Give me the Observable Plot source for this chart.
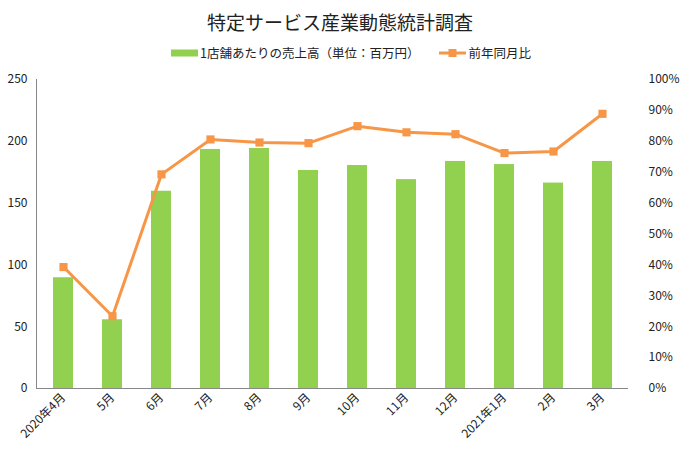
<!DOCTYPE html>
<html>
<head>
<meta charset="utf-8">
<script src="https://cdn.jsdelivr.net/npm/d3@7"></script>
<script src="https://cdn.jsdelivr.net/npm/@observablehq/plot@0.6"></script>
<style>
  html, body { margin: 0; padding: 0; background: #fff; }
  body { font-family: "Liberation Sans Narrow", "Noto Sans CJK JP", sans-serif; color: #333; }
  #wrap { position: relative; width: 680px; height: 454px; }
  #title { position: absolute; left: 0; top: 8px; width: 680px; text-align: center;
           font-family: "Noto Sans CJK JP", sans-serif; font-size: 19px; line-height: 28px; color: #222; }
  #legend { position: absolute; left: 0; top: 43px; width: 680px; display: flex; justify-content: center;
            align-items: center; font-size: 12.5px; line-height: 20px; color: #222; margin-left: 11px; }
  .item { display: flex; align-items: center; }
  .item + .item { margin-left: 20px; }
  .sw { width: 27px; height: 16px; margin-right: 2px; }
  #chart { position: absolute; left: 0; top: 68px; }
</style>
</head>
<body>
<div id="wrap">
  <div id="title">特定サービス産業動態統計調査</div>
  <div id="legend"></div>
  <div id="chart"></div>
</div>
<script>
const months = ["2020年4月","5月","6月","7月","8月","9月","10月","11月","12月","2021年1月","2月","3月"];
const sales = [89.6, 55.6, 159.6, 193.4, 194.2, 176.4, 180.4, 169.0, 183.7, 181.2, 166.2, 183.7];
const yoy = [39.3, 23.4, 69.3, 80.6, 79.6, 79.4, 84.9, 82.9, 82.3, 76.2, 76.7, 88.9];
const leftTicks = [0, 50, 100, 150, 200, 250];
const rightTicks = [0, 10, 20, 30, 40, 50, 60, 70, 80, 90, 100];
const seriesNames = ["1店舗あたりの売上高（単位：百万円）", "前年同月比"];

const GREEN = "#92D050";
const ORANGE = "#F79646";
const scaleRatio = 250 / 100; // right axis 100% maps to 250 on left

const data = months.map((m, i) => ({month: m, sales: sales[i], yoy: yoy[i]}));

// legend
const legend = document.getElementById("legend");
legend.innerHTML = `
  <div class="item"><svg class="sw" viewBox="0 0 27 16"><rect x="0" y="4.5" width="27" height="7" fill="${GREEN}"/></svg><span>${seriesNames[0]}</span></div>
  <div class="item"><svg class="sw" viewBox="0 0 27 16"><line x1="0" x2="27" y1="8" y2="8" stroke="${ORANGE}" stroke-width="3"/><rect x="9.5" y="4" width="8" height="8" fill="${ORANGE}"/></svg><span>${seriesNames[1]}</span></div>`;

const chart = Plot.plot({
  width: 680,
  height: 386,
  marginTop: 11,
  marginBottom: 66,
  marginLeft: 36,
  marginRight: 52,
  style: {fontFamily: '"Liberation Sans Narrow", "Noto Sans CJK JP", sans-serif', fontSize: "12px", color: "#333", background: "#fff"},
  x: {domain: months, paddingInner: 0.6, paddingOuter: 0.3, label: null},
  y: {domain: [0, 250], label: null},
  marks: [
    Plot.barY(data, {x: "month", y: "sales", fill: GREEN}),
    Plot.frame({anchor: "left", stroke: "#888"}),
    Plot.ruleY([0], {stroke: "#888"}),
    Plot.lineY(data, {x: "month", y: d => d.yoy * scaleRatio, stroke: ORANGE, strokeWidth: 3}),
    Plot.dot(data, {x: "month", y: d => d.yoy * scaleRatio, symbol: "square", r: 4.6, fill: ORANGE, stroke: "none"}),
    Plot.axisY({anchor: "left", ticks: leftTicks, tickSize: 0, tickPadding: 9, label: null, fill: "#222"}),
    Plot.axisY({anchor: "right", ticks: rightTicks.map(v => v * scaleRatio), tickFormat: v => Math.round(v / scaleRatio) + "%", tickSize: 0, tickPadding: 20, label: null, fill: "#222"}),
    Plot.axisX({tickRotate: -45, tickSize: 0, tickPadding: 7, label: null, fill: "#222"})
  ]
});
document.getElementById("chart").appendChild(chart);
</script>
</body>
</html>
